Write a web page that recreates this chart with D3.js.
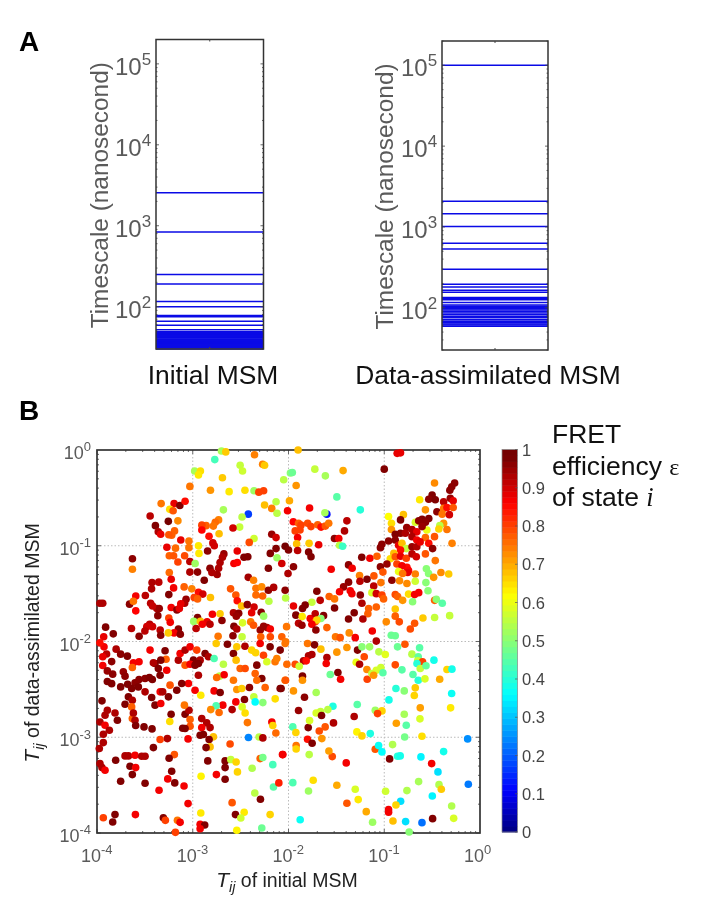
<!DOCTYPE html>
<html><head><meta charset="utf-8">
<script src="https://cdn.jsdelivr.net/npm/d3@7"></script>
<style>
html,body{margin:0;padding:0;background:#fff}
svg{display:block;filter:blur(0.5px)}
text{font-family:"Liberation Sans",Arial,sans-serif}
</style></head><body><div id="c"></div>
<script>
const initialTimescales=[2550,835,250,190,116,100,78,75,66,59,52,49,48,47,46,45,44,43,42,41,40,39,38,37,36,35,34,33,32,31,30];
const assimilatedTimescales=[100000,2075,1460,1010,630,535,300,196,180,165,155,134,130,126,116,108,104,100,97,94,90,86,82,78,75,71,68,65,63,61,59];
const timescaleTicks=[100,1000,10000,100000];
const scatterTicks=[1e-4,1e-3,1e-2,1e-1,1];
const colorbarTicks=[0,.1,.2,.3,.4,.5,.6,.7,.8,.9,1];
const jetStops=[0,.11,.36,.62,.86,.98];
const jetColors=["#00007f","#0000ff","#00ffff","#ffff00","#ff0000","#750000"];
// [log10 Tij initial, log10 Tij assimilated, FRET efficiency]
const upperLeftPoints=[[-2.70,-.01,.53],[-2.655,-.02,.67],[-2.77,-.10,.43],[-2.355,-.05,.74],[-2.27,-.15,.74],[-2.25,-.16,.67],[-2.505,-.16,.56],[-2.48,-.22,.57],[-2.98,-.22,.53],[-2.92,-.22,.65],[-2.94,-.26,.64],[-2.69,-.29,.67],[-2.05,-.31,.55],[-1.98,-.24,.5],[-3.03,-.38,.75],[-2.815,-.42,.72],[-2.62,-.435,.64],[-2.455,-.42,.65],[-2.36,-.425,.52],[-2.31,-.44,.8],[-2.26,-.425,.8],[-2.13,-.54,.55],[-1.99,-.53,.7],[-2.25,-.575,.68],[-2.175,-.61,.74],[-2.12,-.66,.55],[-2.01,-.635,.87],[-3.33,-.56,.75],[-3.195,-.56,.88],[-3.135,-.58,.97],[-3.08,-.535,.85],[-3.24,-.62,.65],[-3.205,-.635,.78],[-2.68,-.625,.53],[-2.42,-.67,.17],[-2.485,-.70,.55],[-3.445,-.69,.92],[-3.255,-.745,.98],[-3.155,-.74,.73],[-2.73,-.73,.74],[-2.765,-.755,.76],[-2.86,-.79,.77],[-2.905,-.785,.8],[-2.785,-.795,.75],[-3.39,-.79,.97],[-2.51,-.805,.56],[-2.58,-.815,.9],[-2.905,-.835,.86],[-3.36,-.855,.93],[-3.335,-.88,.88],[-3.19,-.845,.77],[-2.725,-.875,.68],[-3.22,-.89,.77],[-3.25,-.885,.78],[-2.175,-.88,.95],[-2.13,-.915,.9],[-2.83,-.90,.85],[-3.125,-.94,.88],[-3.04,-.95,.75],[-2.36,-.925,.57],[-2.41,-.965,.79],[-2.79,-.97,.9],[-2.775,-1.0,.9],[-2.94,-1.0,.64],[-3.27,-1.015,.88],[-3.04,-1.02,.75],[-3.18,-1.025,.76],[-2.035,-1.005,.98],[-2.13,-1.03,.97],[-2.0,-1.045,.97],[-2.535,-1.055,.88],[-2.845,-1.055,.96],[-2.935,-1.08,.64],[-2.19,-1.08,.97],[-2.675,-1.085,.95],[-2.69,-1.12,.93],[-2.465,-1.12,.97],[-2.425,-1.115,.97],[-3.245,-1.105,.77],[-3.2,-1.105,.78],[-3.085,-1.105,.79],[-3.63,-1.135,.96],[-3.155,-1.17,.8],[-3.03,-1.165,.92],[-2.57,-1.185,.87],[-2.535,-1.175,.86],[-2.715,-1.175,.93],[-2.975,-1.185,.52],[-2.12,-1.125,.52],[-2.07,-1.185,.9],[-3.63,-1.245,.74],[-2.82,-1.235,.96],[-2.21,-1.235,.97],[-2.73,-1.235,.93],[-2.95,-1.275,.96],[-3.03,-1.275,.93],[-3.245,-1.28,.76],[-2.745,-1.30,.94],[-2.005,-1.29,.93],[-2.8,-1.28,.93],[-2.42,-1.33,.94],[-2.88,-1.36,.97],[-3.225,-1.35,.88],[-3.425,-1.385,.93],[-3.355,-1.38,.92],[-3.43,-1.45,.93],[-2.365,-1.36,.74],[-3.2,-1.44,.87],[-3.09,-1.43,.77],[-3.01,-1.45,.74],[-2.605,-1.45,.78],[-2.34,-1.445,.75],[-2.28,-1.43,.73],[-2.21,-1.465,.96],[-2.155,-1.435,.93],[-3.595,-1.525,.87],[-3.495,-1.52,.92],[-3.25,-1.51,.97],[-2.94,-1.485,.85],[-2.895,-1.505,.9],[-2.985,-1.54,.8],[-2.95,-1.555,.77],[-2.815,-1.54,.68],[-3.07,-1.56,.95],[-3.085,-1.60,.93],[-3.125,-1.605,.88],[-2.55,-1.515,.78],[-2.34,-1.515,.76],[-2.27,-1.525,.77],[-3.97,-1.6,.93],[-3.94,-1.6,.93],[-3.66,-1.61,.96],[-3.62,-1.58,.75],[-3.44,-1.60,.92],[-3.375,-1.655,.93],[-3.35,-1.655,.95],[-3.42,-1.63,.91],[-3.595,-1.68,.86],[-3.225,-1.645,.87],[-3.165,-1.67,.96],[-3.14,-1.655,.88],[-2.535,-1.575,.85],[-2.49,-1.63,.68],[-2.43,-1.615,.96],[-2.36,-1.64,.9],[-2.205,-1.58,.55],[-2.03,-1.545,.55],[-3.365,-1.73,.96],[-3.25,-1.755,.8],[-2.95,-1.75,.97],[-2.795,-1.715,.87],[-2.715,-1.71,.67],[-2.575,-1.70,.93],[-2.52,-1.705,.96],[-2.545,-1.735,.95],[-2.385,-1.70,.88],[-2.285,-1.695,.96],[-2.26,-1.735,.52],[-2.99,-1.79,.52],[-2.92,-1.79,.68],[-2.85,-1.795,.88],[-2.9,-1.82,.87],[-3.235,-1.80,.87],[-3.15,-1.87,.96],[-3.45,-1.82,.92],[-3.48,-1.845,.9],[-3.42,-1.845,.9],[-3.5,-1.89,.92],[-3.56,-1.945,.96],[-3.91,-1.85,.97],[-3.83,-1.92,.97],[-3.64,-1.865,.92],[-3.93,-1.95,.88],[-3.34,-1.88,.92],[-3.335,-1.935,.96],[-3.195,-1.91,.87],[-3.13,-1.925,.96],[-3.255,-1.91,.67],[-2.82,-1.82,.92],[-2.695,-1.78,.96],[-2.735,-1.945,.75],[-2.57,-1.84,.97],[-2.48,-1.805,.58],[-2.54,-1.87,.93],[-2.395,-1.795,.75],[-2.365,-1.83,.78],[-2.295,-1.88,.95],[-2.225,-1.855,.93],[-2.26,-1.84,.95],[-2.19,-1.87,.87],[-2.485,-1.95,.56],[-2.58,-1.94,.96],[-2.29,-1.95,.77],[-2.19,-1.95,.79],[-2.02,-1.845,.75],[-2.07,-1.95,.77],[-2.965,-1.865,.92]];
const upperRightPoints=[[-1.90,0,.68],[-.865,-.035,.88],[-.83,-.03,.88],[-1.725,-.20,.56],[-1.96,-.235,.47],[-1.615,-.27,.53],[-1.43,-.215,.7],[-1.0,-.20,.97],[-1.92,-.37,.72],[-.475,-.345,.73],[-.265,-.345,.96],[-.295,-.385,.96],[-.315,-.42,.96],[-1.495,-.49,.45],[-.5,-.47,.97],[-.535,-.515,.96],[-.467,-.52,.97],[-.63,-.52,.64],[-.31,-.505,.95],[-.38,-.54,.92],[-.28,-.53,.88],[-1.78,-.605,.87],[-1.6,-.67,.12],[-1.62,-.655,.53],[-1.25,-.625,.4],[-.955,-.695,.62],[-.80,-.675,.68],[-.83,-.73,.97],[-.57,-.625,.72],[-.45,-.645,.96],[-.38,-.61,.75],[-.345,-.60,.85],[-.28,-.60,.78],[-.395,-.67,.75],[-.32,-.675,.9],[-.535,-.715,.97],[-.605,-.725,.97],[-.675,-.755,.58],[-.57,-.755,.96],[-.64,-.74,.96],[-.38,-.765,.72],[-.42,-.79,.55],[-.43,-.825,.66],[-.345,-.83,.75],[-.925,-.765,.65],[-.925,-.83,.72],[-1.95,-.75,.86],[-1.895,-.765,.77],[-1.87,-.785,.8],[-1.8,-.765,.79],[-1.765,-.80,.8],[-1.695,-.78,.77],[-1.66,-.805,.85],[-1.615,-.795,.78],[-1.58,-.765,.75],[-1.39,-.74,.92],[-1.415,-.845,.93],[-1.93,-.845,.8],[-1.88,-.835,.8],[-1.905,-.915,.87],[-1.52,-.925,.96],[-1.475,-.925,.87],[-1.467,-.995,.55],[-1.435,-1.005,.42],[-1.785,-.975,.67],[-1.685,-.99,.88],[-1.915,-.98,.68],[-1.905,-1.05,.92],[-.83,-.87,.96],[-.765,-.81,.95],[-.78,-.87,.93],[-.71,-.83,.93],[-.66,-.855,.88],[-.555,-.835,.6],[-.605,-.80,.95],[-.885,-.88,.97],[-.71,-.905,.93],[-.66,-.94,.87],[-.57,-.915,.76],[-.475,-.905,.78],[-.885,-.94,.96],[-.955,-.95,.96],[-1.025,-.985,.96],[-1.04,-1.02,.96],[-.535,-.975,.85],[-.495,-1.03,.96],[-.292,-.975,.74],[-.85,-.995,.88],[-.815,-.975,.68],[-.77,-1.03,.56],[-.71,-1.01,.95],[-.66,-1.01,.93],[-.625,-.96,.88],[-.83,-1.045,.85],[-.9,-1.08,.68],[-.937,-1.135,.65],[-.885,-1.115,.78],[-.83,-1.11,.88],[-.77,-1.13,.8],[-.71,-1.085,.92],[-.665,-1.115,.9],[-.57,-1.085,.78],[-1.79,-1.065,.97],[-1.765,-1.115,.97],[-1.235,-1.12,.97],[-1.15,-1.13,.87],[-1.076,-1.11,.77],[-.467,-1.155,.75],[-.972,-1.19,.95],[-1.04,-1.22,.96],[-.868,-1.19,.8],[-.763,-1.225,.85],[-.815,-1.21,.87],[-1.373,-1.2,.96],[-1.335,-1.235,.87],[-1.554,-1.245,.87],[-1.948,-1.22,.96],[-.56,-1.24,.5],[-.537,-1.29,.5],[-.408,-1.28,.73],[-.327,-1.295,.67],[-.484,-1.33,.72],[-.85,-1.27,.6],[-.746,-1.26,.86],[-.676,-1.295,.74],[-.756,-1.28,.88],[-.808,-1.29,.75],[-1.014,-1.275,.78],[-1.108,-1.315,.78],[-1.258,-1.31,.74],[-1.18,-1.35,.97],[-1.254,-1.37,.92],[-1.373,-1.38,.96],[-1.425,-1.43,.95],[-1.467,-1.48,.87],[-1.355,-1.47,.87],[-1.338,-1.5,.87],[-1.704,-1.475,.97],[-2.035,-1.465,.96],[-1.035,-1.385,.75],[-1.11,-1.42,.92],[-.92,-1.36,.96],[-.84,-1.365,.73],[-.763,-1.395,.73],[-.676,-1.37,.57],[-.565,-1.385,.5],[-.543,-1.47,.5],[-1.129,-1.49,.58],[-1.083,-1.5,.9],[-1.024,-1.515,.8],[-1.007,-1.555,.77],[-1.25,-1.515,.96],[-1.575,-1.53,.77],[-1.519,-1.555,.75],[-1.669,-1.57,.92],[-.885,-1.51,.79],[-.86,-1.53,.77],[-.808,-1.57,.72],[-.746,-1.505,.65],[-.683,-1.51,.87],[-.64,-1.49,.87],[-.704,-1.585,.5],[-.474,-1.57,.77],[-.456,-1.56,.5],[-.394,-1.6,.45],[-1.756,-1.59,.56],[-1.948,-1.63,.88],[-1.826,-1.62,.97],[-1.854,-1.655,.97],[-1.233,-1.6,.93],[-1.163,-1.655,.77],[-1.083,-1.64,.77],[-.885,-1.66,.67],[-.317,-1.73,.56],[-.474,-1.75,.56],[-.596,-1.755,.67],[-.885,-1.735,.77],[-1.171,-1.71,.77],[-1.519,-1.65,.97],[-1.634,-1.73,.97],[-1.373,-1.765,.97],[-1.223,-1.765,.93],[-1.314,-1.7,.97],[-1.923,-1.725,.97],[-1.857,-1.74,.64],[-1.773,-1.76,.87],[-1.721,-1.71,.92],[-1.721,-1.795,.8],[-1.662,-1.76,.5],[-1.704,-1.775,.66],[-1.895,-1.81,.92],[-1.86,-1.83,.95],[-1.756,-1.82,.87],[-1.714,-1.88,.96],[-1.599,-1.855,.77],[-.979,-1.795,.73],[-.843,-1.795,.79],[-.683,-1.81,.78],[-.728,-1.87,.79],[-1.125,-1.89,.87],[-.885,-1.94,.47],[-.927,-1.935,.47],[-1.509,-1.95,.75],[-1.46,-1.96,.78],[-1.366,-1.91,.73],[-1.303,-1.96,.87]];
const lowerLeftPoints=[[-3.927,-2.056,.87],[-3.97,-2.014,.85],[-3.80,-2.08,.93],[-3.9,-2.13,.92],[-3.94,-2.16,.88],[-3.847,-2.21,.96],[-3.94,-2.25,.87],[-3.892,-2.307,.95],[-3.836,-2.341,.96],[-3.892,-2.418,.97],[-3.847,-2.44,.97],[-3.753,-2.132,.96],[-3.683,-2.153,.97],[-3.62,-2.223,.87],[-3.561,-2.212,.87],[-3.631,-2.272,.77],[-3.725,-2.317,.95],[-3.707,-2.362,.96],[-3.561,-2.397,.96],[-3.603,-2.432,.96],[-3.498,-2.387,.96],[-3.453,-2.376,.97],[-3.422,-2.397,.97],[-3.753,-2.474,.97],[-3.68,-2.446,.97],[-3.638,-2.491,.97],[-3.568,-2.474,.97],[-3.498,-2.526,.93],[-3.672,-2.578,.97],[-3.631,-2.613,.93],[-3.707,-2.655,.97],[-3.638,-2.683,.77],[-3.948,-2.62,.97],[-3.429,-2.585,.97],[-3.394,-2.665,.97],[-3.334,-2.648,.87],[-3.34,-2.526,.87],[-3.314,-2.526,.93],[-3.254,-2.578,.97],[-3.394,-2.23,.97],[-3.446,-2.09,.87],[-3.289,-2.097,.97],[-3.279,-2.185,.77],[-3.411,-2.223,.93],[-3.359,-2.282,.97],[-3.341,-2.352,.97],[-3.272,-2.3,.87],[-3.237,-2.456,.78],[-3.167,-2.509,.97],[-3.045,-2.439,.87],[-3.115,-2.439,.97],[-3.15,-2.195,.93],[-3.132,-2.125,.87],[-3.08,-2.09,.93],[-3.028,-2.056,.87],[-3.08,-2.247,.78],[-2.993,-2.195,.97],[-2.923,-2.195,.93],[-2.958,-2.09,.8],[-2.871,-2.125,.97],[-2.836,-2.16,.93],[-3.028,-2.237,.87],[-2.941,-2.352,.93],[-2.976,-2.509,.87],[-2.916,-2.561,.64],[-2.777,-2.178,.44],[-2.68,-2.237,.55],[-2.72,-2.362,.55],[-2.75,-2.376,.76],[-2.672,-2.348,.87],[-2.755,-2.021,.67],[-2.638,-2.028,.97],[-2.54,-2.056,.67],[-2.575,-2.125,.97],[-2.547,-2.195,.68],[-2.331,-2.247,.97],[-2.455,-2.049,.93],[-2.385,-2.09,.66],[-2.343,-2.118,.66],[-2.261,-2.143,.8],[-2.226,-2.212,.58],[-2.14,-2.212,.75],[-2.122,-2.178,.74],[-2.087,-2.09,.97],[-2.192,-2.056,.97],[-2.296,-2.021,.87],[-2.035,-2.021,.75],[-2.505,-2.282,.77],[-2.453,-2.282,.79],[-2.348,-2.334,.77],[-2.575,-2.404,.75],[-2.279,-2.387,.97],[-2.331,-2.404,.76],[-2.244,-2.481,.77],[-2.035,-2.404,.74],[-2.087,-2.491,.97],[-2.54,-2.502,.72],[-2.488,-2.491,.67],[-2.408,-2.481,.96],[-2.777,-2.516,.87],[-2.714,-2.533,.97],[-2.362,-2.578,.56],[-2.348,-2.631,.36],[-2.268,-2.638,.5],[-2.139,-2.599,.65],[-2.46,-2.606,.97],[-2.55,-2.631,.87],[-2.686,-2.665,.87],[-2.756,-2.672,.44],[-2.812,-2.711,.73],[-2.725,-2.742,.76],[-2.589,-2.711,.93],[-2.484,-2.683,.58],[-2.453,-2.746,.65],[-2.429,-2.847,.75],[-2.174,-2.84,.87],[-2.164,-2.878,.66],[-2.132,-2.955,.76],[-3.226,-2.76,.97],[-3.08,-2.76,.97],[-3.039,-2.718,.93],[-3.087,-2.665,.75],[-3.028,-2.815,.77],[-3.028,-2.885,.78],[-3.24,-2.836,.65],[-2.906,-2.805,.93],[-2.854,-2.85,.93],[-2.819,-2.899,.93],[-2.906,-2.899,.87],[-2.889,-2.972,.97],[-2.923,-2.979,.97],[-3.105,-2.906,.97],[-3.08,-2.909,.97],[-3.916,-2.77,.93],[-3.892,-2.718,.93],[-3.812,-2.746,.93],[-3.787,-2.822,.97],[-3.969,-2.84,.93],[-3.916,-2.875,.87],[-3.871,-2.927,.93],[-3.934,-2.969,.93],[-3.631,-2.805,.77],[-3.603,-2.822,.93],[-3.62,-2.746,.93],[-3.596,-2.878,.97],[-3.509,-2.892,.97],[-3.425,-2.913,.97],[-3.265,-3.014,.93],[-3.341,-3.024,.8],[-3.049,-3.017,.87],[-2.784,-2.996,.68],[-2.829,-3.024,.97],[-2.418,-3.003,.24],[-2.307,-2.997,.55],[-2.268,-3.007,.93],[-2.61,-3.07,.79],[-2.819,-3.101,.68],[-2.861,-3.108,.97],[-3.934,-3.056,.93],[-3.976,-3.118,.93],[-3.411,-3.108,.97],[-3.192,-3.181,.78],[-3.247,-3.219,.97],[-3.707,-3.195,.93],[-3.672,-3.195,.93],[-3.603,-3.188,.87],[-3.533,-3.198,.93],[-3.498,-3.198,.93],[-3.805,-3.24,.97],[-3.969,-3.275,.93],[-3.948,-3.317,.93],[-3.916,-3.345,.87],[-3.655,-3.303,.97],[-3.596,-3.317,.87],[-3.631,-3.39,.97],[-3.753,-3.46,.97],[-3.498,-3.481,.97],[-3.22,-3.355,.97],[-3.261,-3.435,.87],[-3.188,-3.477,.97],[-3.091,-3.509,.87],[-3.352,-3.554,.87],[-3.049,-3.693,.87],[-2.843,-3.247,.97],[-2.662,-3.247,.97],[-2.603,-3.233,.56],[-2.547,-3.258,.66],[-2.662,-3.317,.97],[-2.533,-3.362,.66],[-2.38,-3.324,.54],[-2.296,-3.223,.77],[-2.268,-3.212,.48],[-2.063,-3.181,.87],[-2.164,-3.286,.43],[-2.157,-3.519,.45],[-2.101,-3.477,.83],[-2.913,-3.408,.63],[-2.753,-3.39,.87],[-2.662,-3.439,.97],[-2.352,-3.582,.55],[-2.293,-3.648,.97],[-2.589,-3.683,.78],[-2.916,-3.791,.64],[-2.554,-3.808,.97],[-2.463,-3.784,.64],[-2.498,-3.843,.57],[-2.192,-3.808,.66],[-2.279,-3.948,.47],[-2.54,-3.972,.63],[-3.934,-3.84,.8],[-3.812,-3.808,.97],[-3.836,-3.885,.97],[-3.599,-3.808,.87],[-3.307,-3.84,.97],[-3.286,-3.868,.8],[-3.16,-3.868,.75],[-3.132,-3.889,.87],[-2.923,-3.909,.87],[-2.875,-3.916,.97],[-2.923,-3.955,.87],[-3.181,-3.993,.8],[-3.334,-2.195,.97],[-2.976,-2.247,.97],[-2.941,-2.23,.97]];
const lowerRightPoints=[[-2.03,-2.003,.75],[-1.801,-2.021,.75],[-1.728,-2.035,.97],[-1.662,-2.08,.68],[-1.756,-2.136,.93],[-1.791,-2.15,.93],[-1.843,-2.202,.93],[-1.815,-2.202,.85],[-1.93,-2.237,.79],[-2.017,-2.237,.76],[-1.888,-2.258,.57],[-1.599,-2.167,.93],[-1.606,-2.23,.87],[-1.495,-2.111,.72],[-1.39,-2.063,.72],[-1.279,-2.09,.97],[-1.209,-2.16,.79],[-1.233,-2.056,.5],[-1.153,-2.056,.52],[-1.056,-2.108,.55],[-.989,-2.136,.59],[-1.083,-1.996,.93],[-.861,-2.056,.47],[-.784,-2.028,.78],[-.885,-2.244,.79],[-.631,-2.066,.45],[-.711,-2.132,.55],[-.645,-2.16,.46],[-.651,-2.202,.57],[-.6,-2.212,.8],[-.658,-2.23,.4],[-.624,-2.282,.56],[-.564,-2.254,.46],[-.481,-2.195,.38],[-.345,-2.293,.66],[-.293,-2.289,.38],[-.70,-2.345,.45],[-.815,-2.296,.45],[-.645,-2.404,.4],[-.575,-2.39,.58],[-.421,-2.394,.7],[-.878,-2.491,.4],[-.791,-2.516,.5],[-.676,-2.484,.67],[-.686,-2.564,.66],[-.296,-2.543,.37],[-.951,-2.61,.38],[-.624,-2.693,.71],[-.307,-2.693,.64],[-.791,-2.76,.53],[-.627,-2.808,.58],[-.874,-2.854,.71],[-.77,-2.875,.45],[-.787,-2.997,.48],[-.606,-2.989,.65],[-.129,-3.017,.25],[-.913,-3.077,.54],[-1.094,-3.125,.78],[-1.059,-3.087,.37],[-1.024,-3.153,.36],[-.944,-3.226,.97],[-.861,-3.199,.4],[-.833,-3.195,.38],[-.617,-3.205,.35],[-.38,-3.15,.38],[-.505,-3.275,.87],[-.439,-3.362,.33],[-1.397,-3.268,.87],[-1.543,-3.202,.79],[-1.578,-3.143,.71],[-1.784,-3.181,.55],[-1.92,-3.087,.75],[-1.92,-3.122,.66],[-2.059,-3.181,.87],[-1.955,-3.474,.44],[-1.742,-3.449,.65],[-1.791,-3.561,.52],[-1.495,-3.502,.7],[-1.303,-3.543,.58],[-1.272,-3.651,.64],[-1.39,-3.69,.78],[-1.188,-3.777,.7],[-1.122,-3.888,.52],[-1.878,-3.861,.37],[-.986,-3.564,.57],[-.763,-3.557,.54],[-.641,-3.463,.53],[-.428,-3.495,.54],[-.404,-3.543,.67],[-.498,-3.613,.35],[-.829,-3.669,.33],[-.878,-3.707,.66],[-.955,-3.756,.87],[-.955,-3.784,.87],[-.909,-3.875,.68],[-.777,-3.881,.33],[-.606,-3.892,.22],[-.495,-3.85,.97],[-.296,-3.718,.54],[-.275,-3.847,.58],[-.74,-3.989,.5],[-.122,-3.491,.23],[-1.286,-2.944,.63],[-1.233,-2.986,.66],[-1.146,-2.962,.39],[-1.314,-2.784,.93],[-1.53,-2.85,.93],[-1.617,-2.892,.78],[-1.679,-2.934,.79],[-1.652,-3.014,.72],[-1.801,-3.021,.85],[-1.753,-3.063,.97],[-1.794,-2.899,.97],[-1.78,-2.826,.58],[-1.955,-2.892,.44],[-1.923,-2.951,.66],[-1.895,-2.721,.95],[-1.711,-2.533,.53],[-1.833,-2.582,.96],[-1.948,-2.516,.72],[-2.077,-2.491,.97],[-1.854,-2.362,.97],[-1.854,-2.404,.72],[-2.031,-2.404,.78],[-1.564,-2.345,.47],[-1.484,-2.324,.97],[-1.456,-2.394,.87],[-1.178,-2.394,.8],[-1.181,-2.293,.73],[-1.129,-2.334,.56],[-1.083,-2.3,.58],[-1.035,-2.272,.57],[-1.014,-2.327,.45],[-1.111,-2.352,.72],[-1.293,-2.216,.6],[-1.258,-2.237,.93],[-1.282,-2.658,.45],[-1.536,-2.676,.39],[-1.589,-2.711,.55],[-1.665,-2.732,.56],[-1.711,-2.746,.58],[-1.655,-2.773,.97],[-1.094,-2.718,.52],[-1.024,-2.725,.66],[-1.07,-2.753,.8]];

const svg=d3.select("#c").append("svg").attr("width",708).attr("height",904);
const grey="#5a5a5a",boxCol="#333";
const jet=d3.scaleLinear().domain(jetStops).range(jetColors).clamp(true);

function pow10Label(sel,exp,fs,efs){
  sel.append("tspan").text("10");
  sel.append("tspan").attr("font-size",efs).attr("dy",-fs*0.42).text(exp);
}
function timescalePanel(x0,x1,y0,y1,vals,title,titleX,ylabX){
  const y=d3.scaleLog().domain([30,2e5]).range([y1,y0]);
  const g=svg.append("g");
  g.selectAll("line.t").data(vals).join("line").attr("class","t")
   .attr("x1",x0).attr("x2",x1).attr("y1",d=>y(d)).attr("y2",d=>y(d))
   .attr("stroke","#0a0ae6").attr("stroke-width",1.5);
  const minor=[];
  for(let e=1;e<=5;e++)for(let m=1;m<10;m++){const v=m*10**e;if(v>=30&&v<=2e5)minor.push(v);}
  [x0,x1].forEach((xx,i)=>{
    const s=i?-1:1;
    g.selectAll(null).data(minor).join("line").attr("x1",xx).attr("x2",d=>xx+s*(timescaleTicks.includes(d)?3:1.5))
      .attr("y1",d=>y(d)).attr("y2",d=>y(d)).attr("stroke","#444").attr("stroke-width",.8);
  });
  g.append("rect").attr("x",x0).attr("y",y0).attr("width",x1-x0).attr("height",y1-y0).attr("fill","none").attr("stroke",boxCol).attr("stroke-width",1.5);
  const xm=(x0+x1)/2;
  g.append("line").attr("x1",xm).attr("x2",xm).attr("y1",y0).attr("y2",y0+2).attr("stroke","#444");
  g.append("line").attr("x1",xm).attr("x2",xm).attr("y1",y1).attr("y2",y1-2).attr("stroke","#444");
  timescaleTicks.forEach(t=>{
    const tx=g.append("text").attr("x",x0-41).attr("y",y(t)+11).attr("font-size",24).attr("fill",grey);
    pow10Label(tx,Math.round(Math.log10(t)),24,17);
  });
  g.append("text").attr("transform",`translate(${ylabX},${(y0+y1)/2+1}) rotate(-90)`).attr("text-anchor","middle")
    .attr("font-size",24.4).attr("fill",grey).text("Timescale (nanosecond)");
  g.append("text").attr("x",titleX).attr("y",384).attr("text-anchor","middle").attr("font-size",26.4).attr("fill","#111").text(title);
}
timescalePanel(156,263.5,39.5,349,initialTimescales,"Initial MSM",213,108);
timescalePanel(442,548,41,350,assimilatedTimescales,"Data-assimilated MSM",488,393);

svg.append("text").attr("x",19).attr("y",51).attr("font-size",28).attr("font-weight","bold").attr("fill","#000").text("A");
svg.append("text").attr("x",19).attr("y",420).attr("font-size",28).attr("font-weight","bold").attr("fill","#000").text("B");

// Panel B
const bx=d3.scaleLog().domain([1e-4,1]).range([97,480]);
const by=d3.scaleLog().domain([1e-4,1]).range([833,450]);
const b=svg.append("g");
scatterTicks.slice(1,4).forEach(t=>{
  b.append("line").attr("x1",bx(t)).attr("x2",bx(t)).attr("y1",450).attr("y2",833).attr("stroke","#bbb").attr("stroke-width",1).attr("stroke-dasharray","1.5 2");
  b.append("line").attr("y1",by(t)).attr("y2",by(t)).attr("x1",97).attr("x2",480).attr("stroke","#bbb").attr("stroke-width",1).attr("stroke-dasharray","1.5 2");
});
const minorB=[];
for(let e=-4;e<0;e++)for(let m=1;m<10;m++)minorB.push(m*10**e);
minorB.forEach((v,i)=>{
  const len=i%9===0?4:2;
  [[bx(v),833,bx(v),833-len],[bx(v),450,bx(v),450+len],[97,by(v),97+len,by(v)],[480,by(v),480-len,by(v)]].forEach(c=>
    b.append("line").attr("x1",c[0]).attr("y1",c[1]).attr("x2",c[2]).attr("y2",c[3]).attr("stroke","#444").attr("stroke-width",.8));
});
b.append("rect").attr("x",97).attr("y",450).attr("width",383).attr("height",383).attr("fill","none").attr("stroke",boxCol).attr("stroke-width",1.7);
const allPoints=[...upperLeftPoints,...upperRightPoints,...lowerLeftPoints,...lowerRightPoints];
b.selectAll("circle").data(allPoints).join("circle")
 .attr("cx",d=>bx(10**d[0])).attr("cy",d=>by(10**d[1])).attr("r",3.8).attr("fill",d=>jet(d[2]));
scatterTicks.forEach(t=>{
  const e=Math.round(Math.log10(t));
  const xt=b.append("text").attr("x",bx(t)-16).attr("y",862).attr("font-size",18).attr("fill",grey);
  pow10Label(xt,e,18,13);
  const yt=b.append("text").attr("x",91).attr("y",by(t)+9).attr("text-anchor","end").attr("font-size",18).attr("fill",grey);
  pow10Label(yt,e,18,13);
});
function tijLabel(t){
  t.append("tspan").attr("font-style","italic").attr("font-size",21).text("T");
  t.append("tspan").attr("font-style","italic").attr("font-size",14.5).attr("dy",5).text("ij");
}
const xl=b.append("text").attr("x",287).attr("y",887).attr("text-anchor","middle").attr("font-size",19.5).attr("fill","#222");
tijLabel(xl);xl.append("tspan").attr("dy",-5).text(" of initial MSM");
const yl=b.append("text").attr("transform","translate(39,643) rotate(-90)").attr("text-anchor","middle").attr("font-size",19.5).attr("fill","#222");
tijLabel(yl);yl.append("tspan").attr("dy",-5).text(" of data-assimilated MSM");

// Colorbar
const cbY=d3.scaleLinear().domain([0,1]).range([832,449.5]);
const steps=d3.range(0,64);
b.selectAll("rect.cb").data(steps).join("rect").attr("class","cb")
 .attr("x",502).attr("width",15.5)
 .attr("y",i=>cbY((i+1)/64)).attr("height",i=>cbY(i/64)-cbY((i+1)/64)+.5)
 .attr("fill",i=>jet((i+.5)/64));
b.append("rect").attr("x",502).attr("y",449.5).attr("width",15.5).attr("height",382.5).attr("fill","none").attr("stroke","#888").attr("stroke-width",.7);
colorbarTicks.forEach(t=>{
  b.append("line").attr("x1",515).attr("x2",517.5).attr("y1",cbY(t)).attr("y2",cbY(t)).attr("stroke","#555").attr("stroke-width",.7);
  b.append("text").attr("x",522).attr("y",cbY(t)+6).attr("font-size",16.5).attr("fill","#444").text(t);
});
[["FRET",443],["efficiency ",475],["of state ",506]].forEach((d,i)=>{
  const t=svg.append("text").attr("x",552).attr("y",d[1]).attr("font-size",26.5).attr("fill","#111").text(d[0]);
  if(i===1)t.append("tspan").attr("font-family","Liberation Serif").attr("font-size",24).text("ε");
  if(i===2)t.append("tspan").attr("font-style","italic").attr("font-family","Liberation Serif").text("i");
});
</script></body></html>
